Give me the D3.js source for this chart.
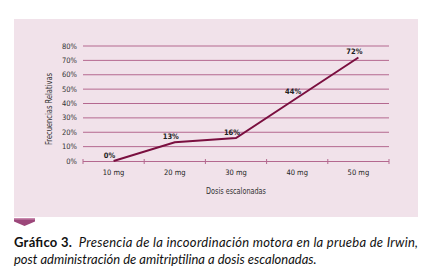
<!DOCTYPE html>
<html><head><meta charset="utf-8">
<script src="https://cdn.jsdelivr.net/npm/d3@7"></script>
<style>
html,body{margin:0;padding:0;background:#fff;}
svg{display:block;}
.tk{font-family:"Liberation Sans Narrow","DejaVu Sans Condensed","Arial Narrow",sans-serif;}
</style></head>
<body><svg id="c" width="437" height="278"></svg>
<script>
const categories = ["10 mg","20 mg","30 mg","40 mg","50 mg"];
const values = [0, 13, 16, 44, 72];
const valueLabels = ["0%","13%","16%","44%","72%"];
const yTicks = [0,10,20,30,40,50,60,70,80];
const xTitle = "Dosis escalonadas";
const yTitle = "Frecuencias Relativas";
const captionBold = "Gráfico 3.";
const captionLine1 = "Presencia de la incoordinación motora en la prueba de Irwin,";
const captionLine2 = "post administración de amitriptilina a dosis escalonadas.";

const svg = d3.select("#c");
const bg = "#f1e2ea", grid = "#b4688f", lineC = "#7a0f3f";
svg.append("rect").attr("x",14).attr("y",19).attr("width",404).attr("height",198).attr("fill",bg);

const L=83,R=389,T=46,B=161;
const x = d3.scaleBand().domain(categories).range([L,R]);
const y = d3.scaleLinear().domain([0,80]).range([B,T]);

// gridlines
svg.append("g").selectAll("line").data(yTicks.filter(d=>d>0)).join("line")
  .attr("x1",L).attr("x2",R).attr("y1",d=>y(d)).attr("y2",d=>y(d))
  .attr("stroke",grid).attr("stroke-width",1);

// y labels
svg.append("g").selectAll("text").data(yTicks).join("text").attr("class","tk")
  .attr("x",77).attr("y",d=>y(d)+2.6).attr("text-anchor","end")
  .attr("font-size",7.5).attr("fill","#333").text(d=>d+"%");

// x axis
const xa = svg.append("g").attr("transform",`translate(0,${B})`)
  .call(d3.axisBottom(x).tickSize(0).tickPadding(0).tickFormat(""));
xa.select(".domain").remove();
svg.append("line").attr("x1",L).attr("x2",R).attr("y1",B+0.5).attr("y2",B+0.5).attr("stroke",grid);
const edges = categories.map(c=>x(c)).concat([x(categories[categories.length-1])+x.bandwidth()]);
svg.append("g").selectAll("line").data(edges).join("line")
  .attr("x1",d=>d).attr("x2",d=>d).attr("y1",B-2).attr("y2",B+3).attr("stroke",grid);
svg.append("g").selectAll("text").data(categories).join("text").attr("class","tk")
  .attr("x",d=>x(d)+x.bandwidth()/2).attr("y",175).attr("text-anchor","middle")
  .attr("font-size",7.5).attr("fill","#222").text(d=>d);

// titles
svg.append("text").attr("class","tk").attr("x",236).attr("y",194).attr("text-anchor","middle")
  .attr("font-size",8.5).attr("fill","#333").attr("textLength",60).attr("lengthAdjust","spacingAndGlyphs").text(xTitle);
svg.append("text").attr("class","tk").attr("transform",`translate(52,109) rotate(-90)`)
  .attr("text-anchor","middle").attr("font-size",8.5).attr("fill","#333")
  .attr("textLength",72).attr("lengthAdjust","spacingAndGlyphs").text(yTitle);

// line
const cx = d=>x(d)+x.bandwidth()/2;
const line = d3.line().x((d,i)=>cx(categories[i])).y(d=>y(d));
svg.append("path").datum(values).attr("d",line).attr("fill","none")
  .attr("stroke",lineC).attr("stroke-width",2);

// value labels
svg.append("g").selectAll("text").data(values).join("text").attr("class","tk")
  .attr("x",(d,i)=>cx(categories[i])-4).attr("y",d=>y(d)-3.5).attr("text-anchor","middle")
  .attr("font-size",7.5).attr("font-weight","bold").attr("fill","#222").text((d,i)=>valueLabels[i]);

// chevron
svg.append("path").attr("d","M14,218 L35,218 L35,221.5 L24.5,226 L14,221.5 Z").attr("fill","#9c477a");
svg.append("path").attr("d","M14,218 L35,218 L35,219.5 L14,219.5 Z").attr("fill","#c98aae");

// caption
const cap = svg.append("g").attr("font-family","Lato, 'Open Sans', sans-serif").attr("fill","#111");
const t1 = cap.append("text").attr("x",14).attr("y",247).attr("font-size",13);
t1.append("tspan").attr("font-weight","bold").text(captionBold);
t1.append("tspan").attr("font-style","italic").text("\u00a0\u00a0"+captionLine1);
const w = t1.node().getComputedTextLength();
if (w>0) t1.attr("textLength",404).attr("lengthAdjust","spacing");
cap.append("text").attr("x",14).attr("y",264).attr("font-size",13).attr("font-style","italic").text(captionLine2);
</script></body></html>
